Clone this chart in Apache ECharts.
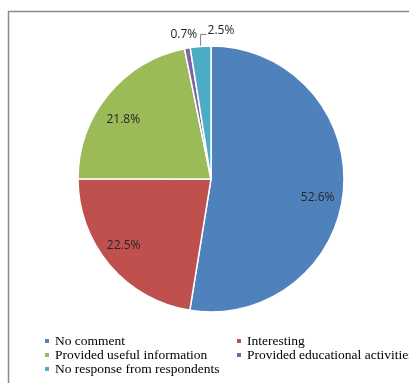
<!DOCTYPE html>
<html>
<head>
<meta charset="utf-8">
<script src="https://cdn.jsdelivr.net/npm/echarts@6/dist/echarts.min.js"></script>
<style>
  html, body { margin: 0; padding: 0; background: #ffffff; }
  #chart { width: 409px; height: 383px; }
</style>
</head>
<body>
<div id="chart"></div>
<script>
// Survey responses, share of respondents (%)
const categories = [
  'No comment',
  'Interesting',
  'Provided useful information',
  'Provided educational activities',
  'No response from respondents'
];
const shares = [52.6, 22.5, 21.8, 0.7, 2.5];
const sliceColors = ['#4F81BD', '#C0504D', '#9BBB59', '#8064A2', '#4BACC6'];

// slices whose value is printed inside the pie; the rest get outside labels
const insideLabelled = [0, 1, 2];

const CENTER = [211, 179];
const RADIUS = 133;

// small nudges of the inside labels, in pixels
const insideNudge = { 0: [-5, 10], 1: [-2, -6], 2: [-1, 12] };

const pieData = categories.map((name, i) => ({
  name: name,
  value: shares[i],
  itemStyle: { color: sliceColors[i] },
  label: { show: !insideLabelled.includes(i) },
  labelLine: {
    show: !insideLabelled.includes(i),
    lineStyle: { opacity: i === 4 ? 1 : 0 }
  }
}));

// transparent ring used only to place the inside labels near the rim
const labelRingData = categories.map((name, i) => ({
  name: name,
  value: shares[i],
  label: { show: insideLabelled.includes(i) }
}));

const labelFont = { fontFamily: 'Open Sans', fontSize: 12, color: '#262626' };
const legendText = { fontFamily: 'Liberation Serif', fontSize: 13.5, color: '#000000', lineHeight: 13.4 };

const chart = echarts.init(document.getElementById('chart'), null, { renderer: 'canvas' });

chart.setOption({
  backgroundColor: '#ffffff',
  animation: false,
  graphic: [{
    type: 'rect',
    shape: { x: 8.5, y: 11.5, width: 600, height: 600 },
    style: { fill: 'none', stroke: '#8a8a8a', lineWidth: 1.5 },
    silent: true
  }],
  legend: [{
    data: [categories[0], categories[2], categories[4]],
    orient: 'vertical',
    left: 43, top: 334,
    padding: 0,
    itemGap: 0,
    itemWidth: 6, itemHeight: 6,
    icon: 'rect',
    selectedMode: false,
    textStyle: legendText
  }, {
    data: [categories[1], categories[3]],
    orient: 'vertical',
    left: 235, top: 334,
    padding: 0,
    itemGap: 0,
    itemWidth: 6, itemHeight: 6,
    icon: 'rect',
    selectedMode: false,
    textStyle: legendText
  }],
  series: [{
    type: 'pie',
    center: CENTER,
    radius: RADIUS,
    startAngle: 90,
    clockwise: true,
    avoidLabelOverlap: false,
    itemStyle: { borderColor: '#ffffff', borderWidth: 1.5 },
    emphasis: { disabled: true },
    label: Object.assign({ position: 'outside', formatter: p => p.value + '%' }, labelFont),
    labelLine: { length: 10, length2: 5, lineStyle: { color: '#7f7f7f', width: 1 } },
    labelLayout: function (p) {
      const pts = p.labelLinePoints;
      if (!pts) return {};
      const a = pts[0];
      if (p.dataIndex === 4) {
        return {
          x: a[0] + 7, y: a[1] - 16,
          align: 'left', verticalAlign: 'middle',
          labelLinePoints: [a, [a[0], a[1] - 12], [a[0] + 6, a[1] - 12]]
        };
      }
      if (p.dataIndex === 3) {
        return {
          x: a[0] - 3.5, y: a[1] - 14,
          align: 'center', verticalAlign: 'middle',
          labelLinePoints: [a, a, a]
        };
      }
      return {};
    },
    data: pieData
  }, {
    type: 'pie',
    center: CENTER,
    radius: [RADIUS * 0.64, RADIUS],
    startAngle: 90,
    clockwise: true,
    silent: true,
    itemStyle: { color: 'transparent', borderWidth: 0 },
    emphasis: { disabled: true },
    label: Object.assign({ position: 'inner', formatter: p => p.value + '%' }, labelFont),
    labelLine: { show: false },
    labelLayout: function (p) {
      const n = insideNudge[p.dataIndex];
      return n ? { dx: n[0], dy: n[1] } : {};
    },
    data: labelRingData
  }]
});
</script>
</body>
</html>
